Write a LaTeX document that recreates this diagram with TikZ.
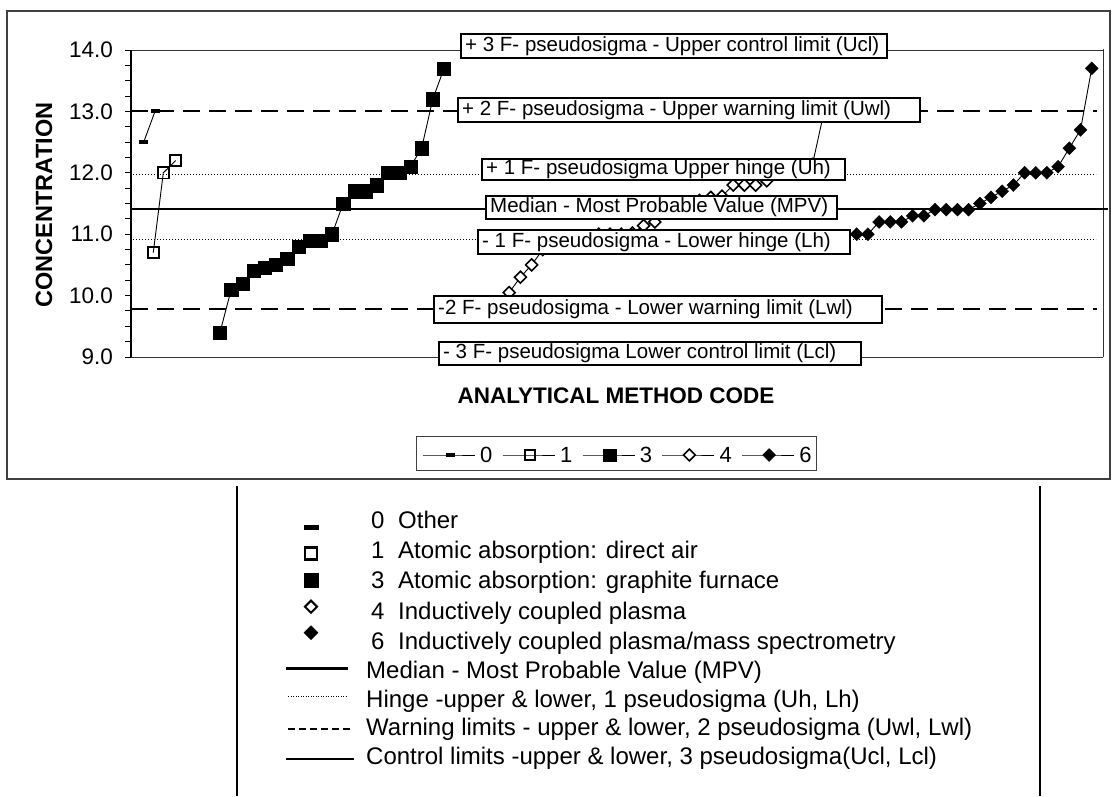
\documentclass[tikz,border=0pt]{standalone}
\usepackage{fontspec}
\setmainfont{Liberation Sans}
\usetikzlibrary{plotmarks}
\pgfdeclareplotmark{hdash}{\pgfpathrectangle{\pgfpoint{-4.5pt}{-2pt}}{\pgfpoint{9pt}{4pt}}\pgfusepathqfill}
\pgfdeclareplotmark{bighdash}{\pgfpathrectangle{\pgfpoint{-7.5pt}{-2.5pt}}{\pgfpoint{15pt}{5pt}}\pgfusepathqfill}
\begin{document}
\begin{tikzpicture}[x=1pt,y=-1pt,
  lblbox/.style={draw=black, line width=1.6pt, fill=white, anchor=north west, inner sep=0pt},
  lbltxt/.style={anchor=west, inner sep=0pt, font=\fontsize{20.5}{22}\selectfont},
  tick/.style={anchor=east, inner sep=0pt, font=\fontsize{22.5}{25}\selectfont},
  ttl/.style={font=\fontsize{22.5}{24}\selectfont\bfseries, inner sep=0pt},
  ctl/.style={line width=1pt, draw=black!80},
  warn/.style={line width=2pt, dash pattern=on 17pt off 9pt},
  hinge/.style={line width=1pt, dash pattern=on 1pt off 2pt},
  med/.style={line width=2pt},
  ser/.style={line width=0.9pt},
  legnum/.style={anchor=west, inner sep=0pt, font=\fontsize{22}{24}\selectfont},
  legtxt/.style={anchor=base west, inner sep=0pt, font=\fontsize{24}{26}\selectfont},
  fsq/.style={mark=square*, mark size=6.6pt, mark options={solid, fill=black, line width=0.3pt}},
  osq/.style={mark=square, mark size=5.6pt, mark options={solid, line width=1.8pt}},
  odm/.style={mark=square*, mark size=4.2pt, mark options={solid, rotate=45, fill=white, line width=1.6pt}},
  fdm/.style={mark=square*, mark size=4.6pt, mark options={solid, rotate=45, fill=black, line width=0.3pt}},
]
\useasboundingbox (0,0) rectangle (1112,796);
\fill[white] (0,0) rectangle (1112,796);

% outer chart frame
\draw[line width=1.5pt, draw=black!75] (7,11) rectangle (1110,479);

\begin{scope}[y=61.4pt, yshift=-909.6pt]
  % reference lines
  \draw[ctl] (131,14) -- (1103,14);
  \draw[ctl] (131,9) -- (1103,9);
  \draw[ctl] (1103,14.02) -- (1103,9);
  \draw[warn] (131,13.0) -- (1097,13.0);
  \draw[hinge] (133,11.98) -- (1096,11.98);
  \draw[med] (131,11.41) -- (1108,11.41);
  \draw[hinge] (133,10.92) -- (1096,10.92);
  \draw[warn] (131,9.79) -- (1097,9.79);
  % axis
  \draw[line width=2pt] (131,14) -- (131,9);
  \foreach \v in {9,9.25,...,14.01} \draw[line width=1pt] (125,\v) -- (131,\v);
  \foreach \v in {9,10,11,12,13,14} \node[tick] (t\v) at (113,\v) {\v.0};

  % series 0
  \draw[ser] plot[mark=hdash] coordinates {(143.7,12.5) (155,13.0)};
  % series 1
  \draw[ser] plot[osq] coordinates {(153.3,10.7) (163.3,12.0) (175.7,12.2)};
  % series 3
  \draw[ser] plot[fsq] coordinates {(220,9.4) (231.2,10.1) (242.4,10.2) (253.6,10.4) (264.8,10.45) (276,10.5) (287.2,10.6) (298.4,10.8) (309.6,10.9) (320.8,10.9) (332,11.0) (343.2,11.5) (354.4,11.7) (365.6,11.7) (376.8,11.8) (388,12.0) (399.2,12.0) (410.4,12.1) (421.6,12.4) (432.8,13.2) (444,13.7)};
  % series 4
  \draw[ser] plot[odm] coordinates {(498,9.78) (509.2,10.05) (520.4,10.3) (531.6,10.5) (542.8,10.75) (554,10.85) (565.2,10.9) (576.4,10.92) (587.6,10.95) (598.8,11.0) (610,11.0) (621.2,11.0) (632.4,11.02) (643.6,11.14) (654.8,11.2) (666,11.4) (677.2,11.45) (688.4,11.5) (699.6,11.55) (710.8,11.6) (722,11.62) (733.2,11.8) (744.4,11.8) (755.6,11.8) (766.8,11.87)};
  % series 6
  \draw[ser] plot[fdm] coordinates {(856.7,11.0) (867.9,11.0) (879.1,11.2) (890.3,11.2) (901.5,11.2) (912.7,11.3) (923.8,11.3) (935.0,11.4) (946.2,11.4) (957.4,11.4) (968.6,11.4) (979.8,11.5) (991.0,11.6) (1002.2,11.7) (1013.4,11.8) (1024.6,12.0) (1035.7,12.0) (1046.9,12.0) (1058.1,12.1) (1069.3,12.4) (1080.5,12.7) (1091.7,13.7)};
\end{scope}

% leader line of the warning label
\coordinate (ldrtop) at (822,121);
\node[fill=black, rotate=45, minimum size=7pt, inner sep=0pt] (ldrpt) at (813,162) {};
\draw[line width=0.9pt] (ldrtop) -- (ldrpt.center);

% limit labels
\node[lblbox, minimum width=426pt, minimum height=24pt] (ucl) at (460,33) {};
\node[lbltxt] (ucltxt) at ([xshift=5pt]ucl.west) {+ 3 F- pseudosigma - Upper control limit (Ucl)};
\node[lblbox, minimum width=462pt, minimum height=24pt] (uwl) at (457,97) {};
\node[lbltxt] (uwltxt) at ([xshift=5pt]uwl.west) {+ 2 F- pseudosigma - Upper warning limit (Uwl)};
\node[lblbox, minimum width=363pt, minimum height=21pt] (uh) at (481,158) {};
\node[lbltxt] (uhtxt) at ([xshift=5pt]uh.west) {+ 1 F- pseudosigma Upper hinge (Uh)};
\node[lblbox, minimum width=351pt, minimum height=23pt] (mpv) at (485,195) {};
\node[lbltxt] (mpvtxt) at ([xshift=5pt]mpv.west) {Median - Most Probable Value (MPV)};
\node[lblbox, minimum width=372pt, minimum height=24pt] (lh) at (477,229) {};
\node[lbltxt] (lhtxt) at ([xshift=5pt]lh.west) {- 1 F- pseudosigma - Lower hinge (Lh)};
\node[lblbox, minimum width=448pt, minimum height=27pt] (lwl) at (433,295) {};
\node[lbltxt] (lwltxt) at ([xshift=5pt]lwl.west) {-2 F- pseudosigma - Lower warning limit (Lwl)};
\node[lblbox, minimum width=422pt, minimum height=23pt] (lcl) at (438,341) {};
\node[lbltxt] (lcltxt) at ([xshift=5pt]lcl.west) {- 3 F- pseudosigma Lower control limit (Lcl)};

% axis titles
\node[ttl, rotate=90, font=\fontsize{23.5}{25}\selectfont\bfseries] (ytitle) at (44,205) {CONCENTRATION};
\node[ttl] (xtitle) at (616,396) {ANALYTICAL METHOD CODE};

% chart legend
\draw[line width=1pt, draw=black!75] (416.7,436) rectangle (816.7,470.7);
\draw[ser] plot[mark=hdash, mark indices={2}] coordinates {(423,455) (450,455) (475,455)};
\node[legnum] (lg0) at (480,455) {0};
\draw[ser] plot[osq, mark size=5pt, mark indices={2}] coordinates {(502.8,455) (529.8,455) (554.8,455)};
\node[legnum] (lg1) at (559.8,455) {1};
\draw[ser] plot[fsq, mark size=6.2pt, mark indices={2}] coordinates {(582.6,455) (609.6,455) (634.6,455)};
\node[legnum] (lg3) at (639.6,455) {3};
\draw[ser] plot[odm, mark indices={2}] coordinates {(662.4,455) (689.4,455) (714.4,455)};
\node[legnum] (lg4) at (719.4,455) {4};
\draw[ser] plot[fdm, mark indices={2}] coordinates {(742.2,455) (769.2,455) (794.2,455)};
\node[legnum] (lg6) at (799.2,455) {6};

% lower legend
\draw[line width=2.5pt] (237,486) -- (237,796);
\draw[line width=2.5pt] (1040,486) -- (1040,796);
\path plot[mark=bighdash] coordinates {(311,527)};
\path plot[mark=square, mark size=6pt, mark options={solid, line width=2.5pt}] coordinates {(311,553.3)};
\path plot[mark=square*, mark size=7pt, mark options={solid, fill=black, line width=0.3pt}] coordinates {(311,580)};
\path plot[mark=square*, mark size=4.3pt, mark options={solid, rotate=45, fill=white, line width=2pt}] coordinates {(311,606.7)};
\path plot[mark=square*, mark size=5pt, mark options={solid, rotate=45, fill=black, line width=0.3pt}] coordinates {(311,632.7)};
\node[legtxt] (k0) at (371,528) {0};
\node[legtxt] (d0) at (398,528) {Other};
\node[legtxt] (k1) at (371,558) {1};
\node[legtxt] (d1) at (398,558) {Atomic absorption: direct air};
\node[legtxt] (k3) at (371,588) {3};
\node[legtxt] (d3) at (398,588) {Atomic absorption: graphite furnace};
\node[legtxt] (k4) at (371,619) {4};
\node[legtxt] (d4) at (398,619) {Inductively coupled plasma};
\node[legtxt] (k6) at (371,649) {6};
\node[legtxt] (d6) at (398,649) {Inductively coupled plasma/mass spectrometry};
\draw[line width=2.5pt] (286,668.3) -- (348,668.3);
\node[legtxt] (lm) at (366,678) {Median - Most Probable Value (MPV)};
\draw[line width=1pt, dash pattern=on 1pt off 1.5pt] (288,696.7) -- (348,696.7);
\node[legtxt] (lhg) at (366,707) {Hinge -upper \& lower, 1 pseudosigma (Uh, Lh)};
\draw[line width=1.3pt, dash pattern=on 7pt off 4pt] (288,729) -- (350,729);
\node[legtxt] (lw) at (366,735) {Warning limits - upper \& lower, 2 pseudosigma (Uwl, Lwl)};
\draw[line width=1.3pt] (286,759) -- (354,759);
\node[legtxt] (lc) at (366,764) {Control limits -upper \& lower, 3 pseudosigma(Ucl, Lcl)};
\end{tikzpicture}
\end{document}
